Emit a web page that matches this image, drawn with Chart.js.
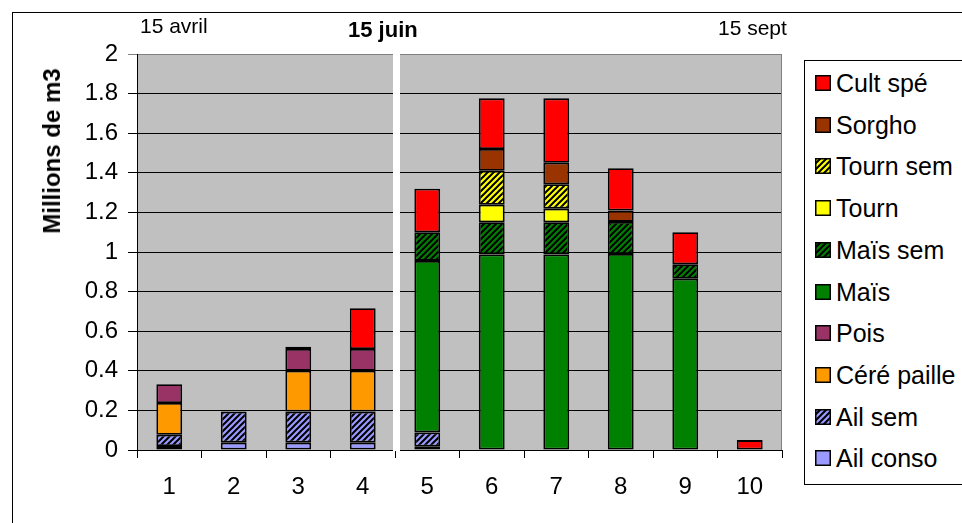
<!DOCTYPE html>
<html>
<head>
<meta charset="utf-8">
<script src="https://cdn.jsdelivr.net/npm/chart.js@4"></script>
<style>
  html, body { margin: 0; padding: 0; background: #fff; }
  #wrap { position: relative; width: 962px; height: 523px; overflow: hidden; font-family: "Liberation Sans", Arial, sans-serif; color: #000; }
  #frame { position: absolute; left: 12px; top: 12px; width: 1000px; height: 600px; border-left: 1px solid #000; border-top: 1px solid #000; }
  canvas#c { position: absolute; left: 0; top: 0; }
  .lbl { position: absolute; white-space: nowrap; line-height: 1; }
  #ytitle { position: absolute; left: 52px; top: 151px; font-weight: bold; font-size: 24px; white-space: nowrap; line-height: 1; transform: translate(-50%, -50%) rotate(-90deg); }
  #legend { position: absolute; left: 804px; top: 60px; width: 170px; height: 423px; border: 1px solid #000; background: #fff; }
  .li { position: absolute; left: 0; height: 26px; font-size: 25px; line-height: 26px; white-space: nowrap; }
  .li canvas { position: absolute; left: 10px; top: 5px; }
  .li span { position: absolute; left: 31px; top: 0; }
</style>
</head>
<body>
<div id="wrap">
  <div id="frame"></div>
  <canvas id="c" width="962" height="523"></canvas>
  <div class="lbl" style="left:140px; top:15px; font-size:21px;">15 avril</div>
  <div class="lbl" style="left:348px; top:19px; font-size:22px; font-weight:bold;">15 juin</div>
  <div class="lbl" style="left:718px; top:17px; font-size:21px;">15 sept</div>
  <div id="ytitle">Millions de m3</div>
  <div id="legend"></div>
</div>
<script>
// ---- data ----
const categories = ["1", "2", "3", "4", "5", "6", "7", "8", "9", "10"];
const yTicks = [0, 0.2, 0.4, 0.6, 0.8, 1, 1.2, 1.4, 1.6, 1.8, 2];
const yTickLabels = ["0", "0.2", "0.4", "0.6", "0.8", "1", "1.2", "1.4", "1.6", "1.8", "2"];

const ailConso   = [0.020, 0.037, 0.037, 0.037, 0.017, null, null, null, null, null];
const ailSem     = [0.057, 0.157, 0.157, 0.157, 0.072, null, null, null, null, null];
const cerePaille = [0.160, null, 0.206, 0.206, null, null, null, null, null, null];
const pois       = [0.095, null, 0.110, 0.110, null, null, null, null, null, null];
const mais       = [null, null, null, null, 0.866, 0.988, 0.988, 0.990, 0.865, null];
const maisSem    = [null, null, null, null, 0.145, 0.162, 0.162, 0.162, 0.073, null];
const tourn      = [null, null, null, null, null, 0.089, 0.069, null, null, null];
const tournSem   = [null, null, null, null, null, 0.171, 0.123, null, null, null];
const sorgho     = [null, null, 0.012, null, null, 0.110, 0.109, 0.057, null, null];
const cultSpe    = [null, null, null, 0.206, 0.220, 0.256, 0.325, 0.214, 0.162, 0.050];

// ---- styling helpers ----
function hatch(color) {
  const s = 6;
  const p = document.createElement('canvas');
  p.width = s; p.height = s;
  const g = p.getContext('2d');
  g.fillStyle = color;
  g.fillRect(0, 0, s, s);
  g.strokeStyle = '#000';
  g.lineWidth = 2;
  g.beginPath();
  g.moveTo(-1, s + 1); g.lineTo(s + 1, -1);
  g.moveTo(-1, 1); g.lineTo(1, -1);
  g.moveTo(s - 1, s + 1); g.lineTo(s + 1, s - 1);
  g.stroke();
  return p;
}
const ctx = document.getElementById('c').getContext('2d');
function pat(color) { return ctx.createPattern(hatch(color), 'repeat'); }

const series = [
  { label: 'Ail conso',   data: ailConso,   color: '#9999FF', hatched: false },
  { label: 'Ail sem',     data: ailSem,     color: '#9999FF', hatched: true },
  { label: 'Céré paille', data: cerePaille, color: '#FF9900', hatched: false },
  { label: 'Pois',        data: pois,       color: '#993366', hatched: false },
  { label: 'Maïs',        data: mais,       color: '#008000', hatched: false },
  { label: 'Maïs sem',    data: maisSem,    color: '#008000', hatched: true },
  { label: 'Tourn',       data: tourn,      color: '#FFFF00', hatched: false },
  { label: 'Tourn sem',   data: tournSem,   color: '#FFFF00', hatched: true },
  { label: 'Sorgho',      data: sorgho,     color: '#993300', hatched: false },
  { label: 'Cult spé',    data: cultSpe,    color: '#FF0000', hatched: false }
];

const datasets = series.map(s => ({
  label: s.label,
  data: s.data,
  backgroundColor: s.hatched ? pat(s.color) : s.color,
  borderColor: '#000',
  borderWidth: 1.8,
  borderSkipped: false,
  barPercentage: 0.4,
  categoryPercentage: 1.0
}));

const plotDecor = {
  id: 'plotDecor',
  beforeDraw(chart) {
    const a = chart.chartArea, c = chart.ctx;
    c.save();
    c.fillStyle = '#C0C0C0';
    c.fillRect(a.left, a.top, a.right - a.left, a.bottom - a.top);
    c.restore();
  },
  afterDraw(chart) {
    const a = chart.chartArea, c = chart.ctx;
    const xs = chart.scales.x;
    c.save();
    c.strokeStyle = '#808080';
    c.lineWidth = 1;
    c.beginPath();
    c.moveTo(a.right - 0.5, a.top);
    c.lineTo(a.right - 0.5, a.bottom);
    c.stroke();
    const b = (xs.getPixelForValue(3) + xs.getPixelForValue(4)) / 2;
    c.fillStyle = '#fff';
    c.fillRect(b - 2, a.top - 1, 7, a.bottom - a.top + 2);
    c.restore();
  }
};

new Chart(ctx, {
  type: 'bar',
  data: { labels: categories, datasets: datasets },
  options: {
    responsive: false,
    animation: false,
    layout: { padding: { left: 0, top: 54, right: 180, bottom: 0 } },
    plugins: { legend: { display: false }, tooltip: { enabled: false } },
    scales: {
      x: {
        stacked: true,
        grid: { drawOnChartArea: false, tickLength: 8, color: '#000', offset: true },
        border: { color: '#000', width: 1 },
        ticks: { color: '#000', font: { family: 'Liberation Sans', size: 24 }, padding: 15, maxRotation: 0 },
        afterFit(s) { s.height = 73; }
      },
      y: {
        stacked: true,
        min: yTicks[0],
        max: yTicks[yTicks.length - 1],
        afterBuildTicks(s) { s.ticks = yTicks.map(v => ({ value: v })); },
        grid: {
          color: c => (c.tick && c.tick.value === 2 ? '#808080' : '#000'),
          tickLength: 9,
          lineWidth: 1
        },
        border: { color: '#000', width: 1 },
        ticks: {
          color: '#000',
          font: { family: 'Liberation Sans', size: 24 },
          padding: 10,
          callback: (v, i) => yTickLabels[i]
        },
        afterFit(s) { s.width = 137; }
      }
    }
  },
  plugins: [plotDecor]
});

// ---- legend (top-to-bottom = reverse stacking order) ----
const legend = document.getElementById('legend');
const rowTop0 = 9, rowStep = 41.7;
series.slice().reverse().forEach((s, i) => {
  const row = document.createElement('div');
  row.className = 'li';
  row.style.top = (rowTop0 + i * rowStep) + 'px';
  const sw = document.createElement('canvas');
  sw.width = 16; sw.height = 16;
  const g = sw.getContext('2d');
  g.fillStyle = s.hatched ? g.createPattern(hatch(s.color), 'repeat') : s.color;
  g.fillRect(0, 0, 16, 16);
  g.strokeStyle = '#000';
  g.lineWidth = 1.5;
  g.strokeRect(0.75, 0.75, 14.5, 14.5);
  const t = document.createElement('span');
  t.textContent = s.label;
  row.appendChild(sw);
  row.appendChild(t);
  legend.appendChild(row);
});
</script>
</body>
</html>
